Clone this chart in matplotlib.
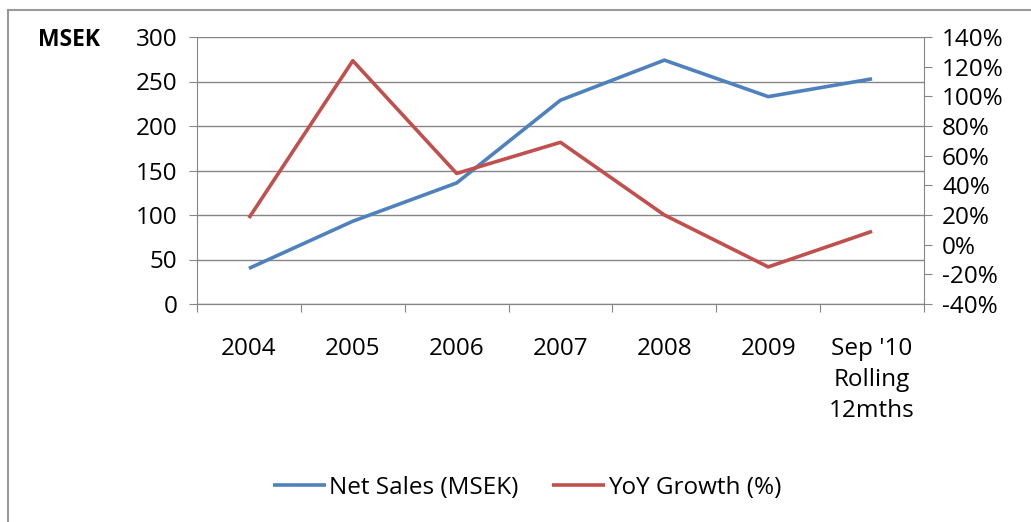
import matplotlib.pyplot as plt
from matplotlib.lines import Line2D
from matplotlib.ticker import FuncFormatter

plt.rcParams['font.family'] = ['Open Sans', 'DejaVu Sans']

periods = ["2004", "2005", "2006", "2007", "2008", "2009", "Sep '10\nRolling\n12mths"]
net_sales = [40, 93, 136, 229, 274, 233, 253]
yoy_growth = [18, 124, 48, 69, 20, -15, 9]

BLUE = "#4F81BD"
RED = "#C0504D"
GRID = "#868686"
FS = 17.5

fig = plt.figure(figsize=(10.31, 5.22), dpi=100)
W, H = 1031, 522
ax = fig.add_axes([197 / W, 1 - 304 / H, (924 - 197) / W, (304 - 37) / H])
ax2 = ax.twinx()

x = list(range(len(periods)))
ax.plot(x, net_sales, color=BLUE, lw=2.6, solid_capstyle="butt", label="Net Sales (MSEK)", zorder=3)
ax2.plot(x, yoy_growth, color=RED, lw=2.6, solid_capstyle="butt", label="YoY Growth (%)", zorder=3)

ax.set_xlim(-0.5, len(periods) - 0.5)
ax.set_ylim(0, 300)
ax.set_yticks(range(0, 301, 50))
ax2.set_ylim(-40, 140)
ax2.set_yticks(range(-40, 141, 20))
ax2.yaxis.set_major_formatter(FuncFormatter(lambda v, p: f"{v:.0f}%"))

ax.yaxis.grid(True, color=GRID, lw=1.0)
ax.set_axisbelow(True)
for a in (ax, ax2):
    a.spines["top"].set_visible(False)
    for s in ("left", "right", "bottom"):
        a.spines[s].set_color(GRID)
ax2.spines["left"].set_visible(False)
ax.spines["right"].set_visible(False)

# category boundaries carry the ticks, labels sit in the middle of each slot
ax.set_xticks([i - 0.5 for i in range(len(periods) + 1)])
ax.set_xticklabels([])
ax.set_xticks(x, minor=True)
ax.set_xticklabels(periods, minor=True, fontsize=FS, linespacing=1.38, va="top")
ax.tick_params(axis="x", which="major", direction="out", length=6, color=GRID)
ax.tick_params(axis="x", which="minor", length=0, pad=24)
ax.tick_params(axis="y", direction="out", length=6, color=GRID, labelsize=FS, pad=8)
ax2.tick_params(axis="y", direction="out", length=6, color=GRID, labelsize=FS, pad=7)

fig.text(38 / W, 1 - 40 / H, "MSEK", fontsize=16.5, fontweight="bold", ha="left", va="center")

h1, l1 = ax.get_legend_handles_labels()
h2, l2 = ax2.get_legend_handles_labels()
fig.legend(h1 + h2, l1 + l2, loc="center", bbox_to_anchor=(527 / W, 1 - 488 / H),
           ncol=2, frameon=False, fontsize=FS, handlelength=2.2, handletextpad=0.1,
           columnspacing=1.4)

# outer chart frame (left and top edges)
fig.add_artist(Line2D([8 / W, 8 / W], [0, 1 - 10 / H], color="#9a9a9a", lw=1.5))
fig.add_artist(Line2D([8 / W, 1], [1 - 10 / H, 1 - 10 / H], color="#9a9a9a", lw=1.5))

fig.savefig("out.png", dpi=100)
